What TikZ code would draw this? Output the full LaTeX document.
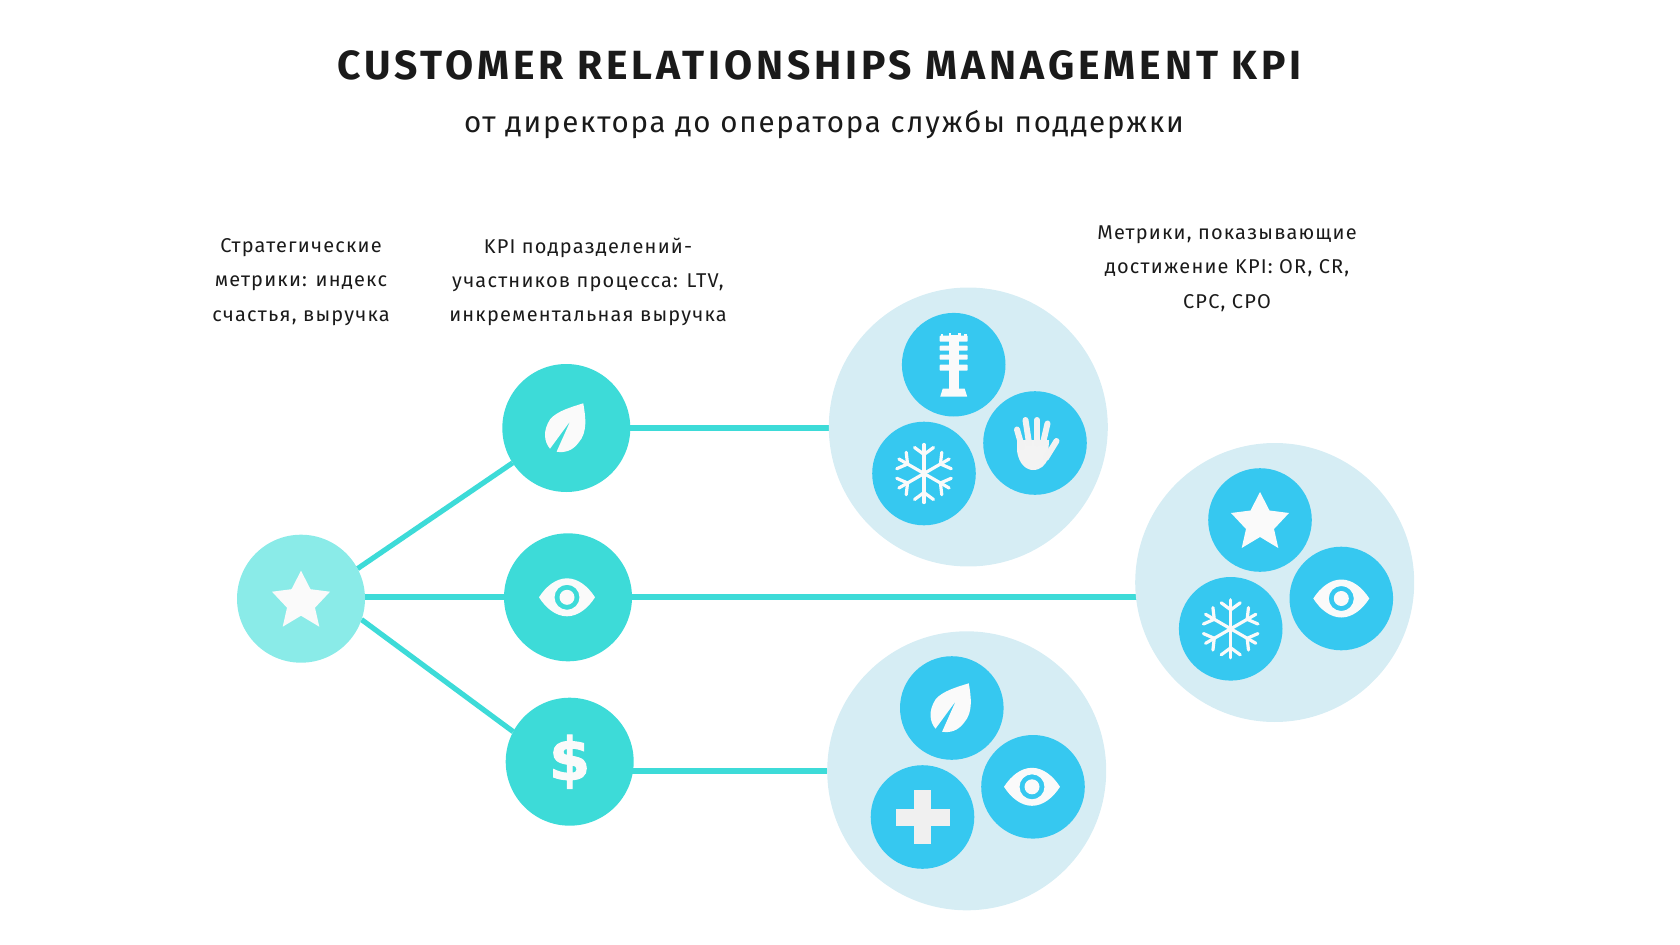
\documentclass[tikz,border=0pt]{standalone}
\usepackage{fontspec}
\setmainfont{Fira Sans}
\newfontfamily\titlefont[LetterSpace=9.6]{Fira Sans}
\newfontfamily\subfont[LetterSpace=6]{Fira Sans}
\newfontfamily\capfont[LetterSpace=6]{Fira Sans}
\newfontfamily\dollarfont[BoldFeatures={FakeBold=2}]{DejaVu Sans}
\usetikzlibrary{backgrounds}
\definecolor{teal1}{HTML}{3DDBD8}
\definecolor{teal2}{HTML}{8AEBE8}
\definecolor{blue1}{HTML}{36C8F0}
\definecolor{pale}{HTML}{D6EDF4}
\definecolor{ink}{HTML}{1A1A1A}
\definecolor{glyph}{HTML}{FAFAFA}
\tikzset{
  x=0.05cm,y=-0.05cm,
  bigc/.style={circle,fill=pale,minimum size=13.95cm,inner sep=0,outer sep=0},
  midc/.style={circle,fill=teal1,minimum size=6.4cm,inner sep=0,outer sep=0},
  startc/.style={midc,fill=teal2},
  smallc/.style={circle,fill=blue1,minimum size=5.18cm,inner sep=0,outer sep=0},
  link/.style={draw=teal1,line width=0.29cm},
  linkthin/.style={draw=teal1,line width=0.26cm},
  capt/.style={font=\capfont\fontsize{28.4pt}{48.8pt}\selectfont,text=ink,align=center,inner sep=0},
  star glyph/.pic={
    \fill[glyph] (0,-28) -- (9.5,-9.5) -- (29,-7) -- (14,9) -- (18.3,28) -- (0,17) -- (-18.3,28) -- (-14,9) -- (-29,-7) -- (-9.5,-9.5) -- cycle;
  },
  eye glyph/.pic={
    \fill[glyph,even odd rule] (-28,0) .. controls (-21,-11) and (-11,-19) .. (0,-19) .. controls (11,-19) and (21,-11) .. (28,0) .. controls (21,11) and (11,19) .. (0,19) .. controls (-11,19) and (-21,11) .. (-28,0) -- cycle (0,0) circle[radius=12.5];
    \fill[glyph] (0,0) circle[radius=7.5];
  },
  leaf glyph/.pic={
    \fill[glyph] (17,-24.7) .. controls (19,-12) and (22,4) .. (12,15) .. controls (6,23) and (-2,25) .. (-9.7,23.7) -- (4,-7) -- (-16.3,20.7) .. controls (-22,14) and (-24,3) .. (-16,-9) .. controls (-9,-17) and (5,-21) .. (17,-24.7) -- cycle;
  },
  snow glyph/.pic={
    \begin{scope}[draw=glyph,line width=0.16cm,line cap=round]
      \foreach \a in {0,60,...,300}{
        \begin{scope}[rotate=\a]
          \draw (0,0) -- (0,-29);
          \draw (0,-19) -- (-9.5,-26);
          \draw (0,-19) -- (9.5,-26);
        \end{scope}
      }
    \end{scope}
  },
  plus glyph/.pic={
    \fill[glyph!96!black] (-8.5,-27) rectangle (8.5,27);
    \fill[glyph!96!black] (-27,-8.5) rectangle (27,8.5);
  },
  hand glyph/.pic={
    \fill[glyph!97!black] (-18,-3) -- (-18,8) .. controls (-16,22) and (-8,27) .. (-2,27) .. controls (6,27) and (10,22) .. (13,16) -- (14,-3) -- cycle;
    \begin{scope}[draw=glyph!97!black,line width=0.3cm,line cap=round]
      \draw (-13,4) -- (-18,-13.5);
      \draw (-6,0) -- (-9.5,-23);
      \draw (2,0) -- (2,-23);
      \draw (8,0) -- (12.5,-19.5);
      \draw (11,15) -- (21.5,-2);
    \end{scope}
  },
  tower glyph/.pic={
    \fill[glyph] (-5,-30) rectangle (5,25);
    \fill[glyph] (-11,24) -- (11,24) -- (13.5,32) -- (-13.5,32) -- cycle;
    \fill[glyph,rounded corners=1pt] (-14,-29) rectangle (14,-23);
    \fill[glyph,rounded corners=1pt] (-14,-19) rectangle (14,-14);
    \fill[glyph,rounded corners=1pt] (-14,-10) rectangle (14,-5);
    \fill[glyph,rounded corners=1pt] (-14,0) rectangle (14,6);
    \fill[glyph] (-13,-31) rectangle (-10.5,-28);
    \fill[glyph] (-5,-32) rectangle (-2.5,-28);
    \fill[glyph] (4.5,-32) rectangle (7,-28);
    \fill[glyph] (10.5,-31) rectangle (13,-28);
  },
  dollar glyph/.pic={
    \node[inner sep=0,text=glyph,font=\dollarfont\fontsize{84pt}{84pt}\selectfont\bfseries] at (0,0) {\$};
  }
}
\begin{document}
\begin{tikzpicture}
\useasboundingbox (0,0) rectangle (1680,945);
\node[font=\titlefont\fontsize{58pt}{60pt}\selectfont\bfseries,text=ink] (title) at (819.5,65) {CUSTOMER RELATIONSHIPS MANAGEMENT KPI};
\node[font=\subfont\fontsize{42pt}{44pt}\selectfont,text=ink] (sub) at (824,125) {от директора до оператора службы поддержки};

\node[capt] (t1) at (301,282) {Стратегические\\метрики: индекс\\счастья, выручка};
\node[capt] (t2) at (588,282) {KPI подразделений-\\участников процесса: LTV,\\инкрементальная выручка};
\node[capt] (t3) at (1227,268.5) {Метрики, показывающие\\достижение KPI: OR, CR,\\CPC, CPO};

\node[bigc] (b1) at (968.3,427) {};
\node[bigc] (b2) at (1274.7,582.5) {};
\node[bigc] (b3) at (966.7,770.8) {};

\node[startc] (s) at (301,598.7) {};
\node[midc] (m1) at (566.3,428) {};
\node[midc] (m2) at (568,597.3) {};
\node[midc] (m3) at (569.7,761.7) {};

\node[smallc] (a1) at (953.7,364.7) {};
\node[smallc] (a2) at (1035,443) {};
\node[smallc] (a3) at (924,473.5) {};
\node[smallc] (c1) at (1260,520) {};
\node[smallc] (c2) at (1341.3,598.5) {};
\node[smallc] (c3) at (1230.7,628.8) {};
\node[smallc] (d1) at (951.8,708) {};
\node[smallc] (d2) at (1033,786.8) {};
\node[smallc] (d3) at (922.5,817) {};

\begin{scope}[on background layer]
  \draw[link] (m1) -- (m1 -| b1);
  \draw[link] (m2 -| s) -- (m2);
  \draw[link] (m2) -- (m2 -| b2);
  \draw[link] (m3 |- b3) -- (b3);
  \draw[linkthin] (s.28) -- (m1.213);
  \draw[linkthin] (s.-19) -- (m3.152);
\end{scope}

\pic at (s) {star glyph};
\pic at (c1) {star glyph};
\pic at (m1) {leaf glyph};
\pic at (d1) {leaf glyph};
\pic at ([xshift=-0.05cm]m2) {eye glyph};
\pic at (c2) {eye glyph};
\pic at ([xshift=-0.05cm]d2) {eye glyph};
\pic at (a3) {snow glyph};
\pic at (c3) {snow glyph};
\pic at (d3) {plus glyph};
\pic at (a2) {hand glyph};
\pic at (a1) {tower glyph};
\pic at (m3) {dollar glyph};
\end{tikzpicture}
\end{document}
